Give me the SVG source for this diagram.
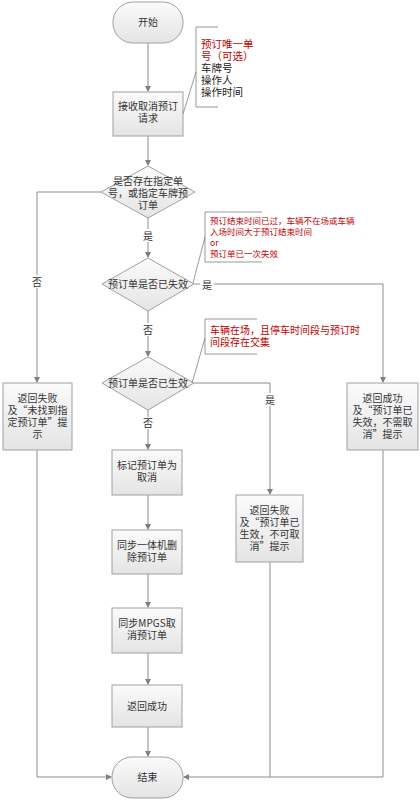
<svg xmlns="http://www.w3.org/2000/svg" width="420" height="800" viewBox="0 0 420 800">
<defs>
<linearGradient id="g" x1="0" y1="0" x2="0" y2="1">
<stop offset="0" stop-color="#fbfbfb"/>
<stop offset="1" stop-color="#e4e4e4"/>
</linearGradient>
<marker id="a" markerWidth="6" markerHeight="6" refX="5" refY="3" orient="auto" markerUnits="userSpaceOnUse">
<path d="M0,0 L6,3 L0,6 z" fill="#7f7f7f"/>
</marker>
<style>
.n{fill:url(#g);stroke:#a0a0a0;stroke-width:1}
.t{font-family:"Noto Sans CJK SC","Liberation Sans",sans-serif;font-size:10px;fill:#333;text-anchor:middle}
.c{fill:none;stroke:#8c8c8c;stroke-width:1}
.an{fill:none;stroke:#7f7f7f;stroke-width:0.8}
.r{font-family:"Noto Sans CJK SC","Liberation Sans",sans-serif;fill:#c00000}
.k{font-family:"Noto Sans CJK SC","Liberation Sans",sans-serif;fill:#222}
.l{font-family:"Noto Sans CJK SC","Liberation Sans",sans-serif;font-size:10px;fill:#333;text-anchor:middle}
</style>
</defs>
<rect width="420" height="800" fill="#fff"/>
<g id="connectors">
<path class="c" d="M148,43 V91" marker-end="url(#a)"/>
<path class="c" d="M148,136 V165" marker-end="url(#a)"/>
<path class="c" d="M148,218 V257" marker-end="url(#a)"/>
<path class="c" d="M101,192 H37 V382" marker-end="url(#a)"/>
<path class="c" d="M194,284 H383 V382" marker-end="url(#a)"/>
<path class="c" d="M148,311 V356" marker-end="url(#a)"/>
<path class="c" d="M194,383 H270 V494" marker-end="url(#a)"/>
<path class="c" d="M148,410 V449" marker-end="url(#a)"/>
<path class="c" d="M148,495 V529" marker-end="url(#a)"/>
<path class="c" d="M148,574 V607" marker-end="url(#a)"/>
<path class="c" d="M148,653 V684" marker-end="url(#a)"/>
<path class="c" d="M148,727 V756" marker-end="url(#a)"/>
<path class="c" d="M37,450 V777 H111" marker-end="url(#a)"/>
<path class="c" d="M383,450 V777 H184" marker-end="url(#a)"/>
<path class="c" d="M270,562 V777"/>
<rect x="141" y="229" width="14" height="13" fill="#fff"/>
<text class="l" x="148" y="240">是</text>
<rect x="30" y="275" width="14" height="13" fill="#fff"/>
<text class="l" x="37" y="286">否</text>
<rect x="200" y="278" width="14" height="13" fill="#fff"/>
<text class="l" x="207" y="289">是</text>
<rect x="141" y="323" width="14" height="13" fill="#fff"/>
<text class="l" x="148" y="334">否</text>
<rect x="263" y="393" width="14" height="13" fill="#fff"/>
<text class="l" x="270" y="404">是</text>
<rect x="141" y="417" width="14" height="12" fill="#fff"/>
<text class="l" x="148" y="427">否</text>
</g>
<g id="start">
<rect class="n" x="113" y="2" width="70" height="41" rx="20" ry="20"/>
<text class="t" x="148" y="26">开始</text>
</g>
<g id="receive">
<rect class="n" x="113" y="92" width="70" height="44"/>
<text class="t" x="148" y="110">接收取消预订</text>
<text class="t" x="148" y="122">请求</text>
</g>
<g id="note1">
<path class="an" d="M218,27 H196 V107 H218"/>
<path class="an" d="M183,114 L196,72"/>
<text class="r" x="201" y="48" font-size="10.5">预订唯一单</text>
<text class="r" x="201" y="60" font-size="10.5">号（可选）</text>
<text class="k" x="201" y="72" font-size="10.5">车牌号</text>
<text class="k" x="201" y="84" font-size="10.5">操作人</text>
<text class="k" x="201" y="96" font-size="10.5">操作时间</text>
</g>
<g id="d1">
<polygon class="n" points="148,166 195,192 148,218 101,192"/>
<text class="t" x="148" y="185">是否存在指定单</text>
<text class="t" x="148" y="197">号，或指定车牌预</text>
<text class="t" x="148" y="209">订单</text>
</g>
<g id="d2">
<polygon class="n" points="148,258 194,284 148,311 102,284"/>
<text class="t" x="148" y="288">预订单是否已失效</text>
</g>
<g id="note2">
<path class="an" d="M262,212 H205 V262 H262"/>
<path class="an" d="M193,283 L205,237"/>
<text class="r" x="210" y="224" font-size="8.5">预订结束时间已过，车辆不在场或车辆</text>
<text class="r" x="210" y="235" font-size="8.5">入场时间大于预订结束时间</text>
<text class="r" x="210" y="246" font-size="8.5">or</text>
<text class="r" x="210" y="257" font-size="8.5">预订单已一次失效</text>
</g>
<g id="d3">
<polygon class="n" points="148,357 194,383 148,410 102,383"/>
<text class="t" x="148" y="387">预订单是否已生效</text>
</g>
<g id="note3">
<path class="an" d="M257,319 H205 V354 H257"/>
<path class="an" d="M192,383 L205,338"/>
<text class="r" x="210" y="334" font-size="10">车辆在场，且停车时间段与预订时</text>
<text class="r" x="210" y="346" font-size="10">间段存在交集</text>
</g>
<g id="failNotFound">
<rect class="n" x="3" y="383" width="69" height="67"/>
<text class="t" x="37.5" y="402">返回失败</text>
<text class="t" x="37.5" y="414">及“未找到指</text>
<text class="t" x="37.5" y="426">定预订单”提</text>
<text class="t" x="37.5" y="438">示</text>
</g>
<g id="okExpired">
<rect class="n" x="347" y="383" width="71" height="67"/>
<text class="t" x="382.5" y="402">返回成功</text>
<text class="t" x="382.5" y="414">及“预订单已</text>
<text class="t" x="382.5" y="426">失效，不需取</text>
<text class="t" x="382.5" y="438">消”提示</text>
</g>
<g id="failActive">
<rect class="n" x="236" y="495" width="67" height="67"/>
<text class="t" x="269.5" y="514">返回失败</text>
<text class="t" x="269.5" y="526">及“预订单已</text>
<text class="t" x="269.5" y="538">生效，不可取</text>
<text class="t" x="269.5" y="550">消”提示</text>
</g>
<g id="mark">
<rect class="n" x="112" y="450" width="70" height="45"/>
<text class="t" x="147" y="469">标记预订单为</text>
<text class="t" x="147" y="481">取消</text>
</g>
<g id="sync1">
<rect class="n" x="112" y="530" width="70" height="44"/>
<text class="t" x="147" y="549">同步一体机删</text>
<text class="t" x="147" y="561">除预订单</text>
</g>
<g id="sync2">
<rect class="n" x="112" y="608" width="70" height="45"/>
<text class="t" x="147" y="627">同步MPGS取</text>
<text class="t" x="147" y="639">消预订单</text>
</g>
<g id="ok">
<rect class="n" x="112" y="685" width="70" height="42"/>
<text class="t" x="147" y="710">返回成功</text>
</g>
<g id="end">
<rect class="n" x="112" y="757" width="71" height="41" rx="20" ry="20"/>
<text class="t" x="147.5" y="781">结束</text>
</g>
</svg>
